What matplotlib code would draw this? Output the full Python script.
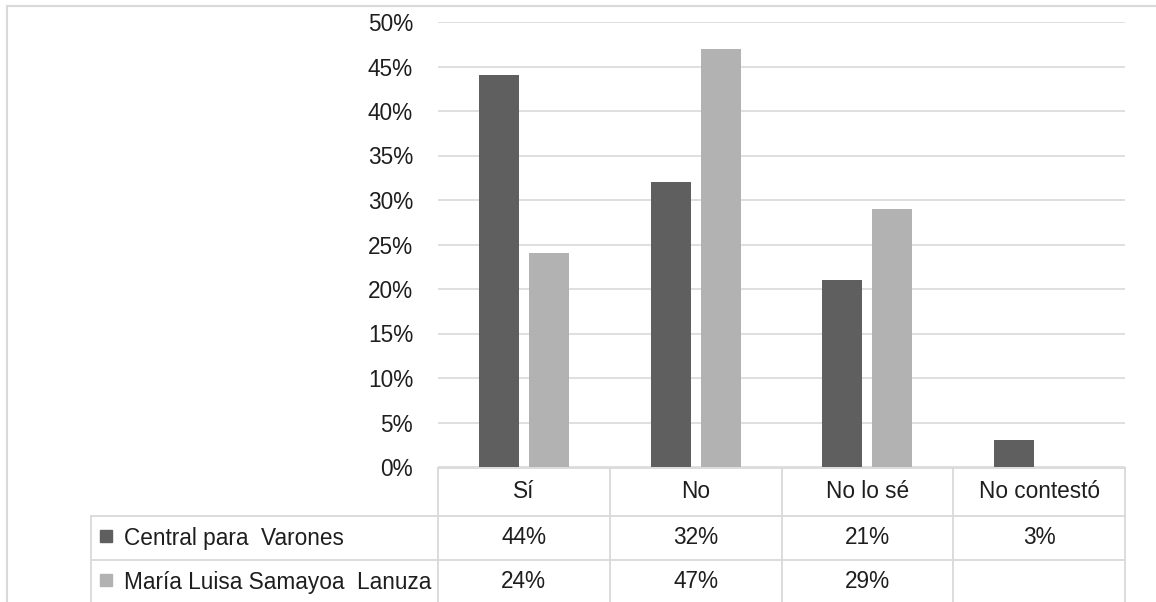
import matplotlib.pyplot as plt
import numpy as np
from matplotlib.lines import Line2D
from matplotlib.patches import Rectangle
import matplotlib.transforms as mtransforms

plt.rcParams['font.family'] = ['Liberation Sans', 'DejaVu Sans']

# survey answers, percent per school
categories = ['Sí', 'No', 'No lo sé', 'No contestó']
series_names = ['Central para  Varones', 'María Luisa Samayoa  Lanuza']
central = [44, 32, 21, 3]
samayoa = [24, 47, 29, None]
yticks = [0, 5, 10, 15, 20, 25, 30, 35, 40, 45, 50]

dark = '#5f5f5f'
light = '#b2b2b2'
grid_c = '#d9d9d9'
text_c = '#1e1e1e'
fs = 16.3

W, H = 1156, 602
fig = plt.figure(figsize=(W / 100, H / 100), dpi=100)

# plot area in pixels: x 438..1125, y 22 (50%) .. 467 (0%)
x0, x1, ytop, ybot = 438, 1125, 22, 467
ax = fig.add_axes([x0 / W, 1 - ybot / H, (x1 - x0) / W, (ybot - ytop) / H])

x = np.arange(len(categories))
bw = 0.233
off = 0.1456
ax.bar(x - off, central, width=bw, color=dark, zorder=3)
vals2 = [v if v is not None else 0 for v in samayoa]
ax.bar(x + off, vals2, width=bw, color=light, zorder=3)

ax.set_xlim(-0.5, len(categories) - 0.5)
ax.set_ylim(0, 50)
ax.set_yticks(yticks)
ax.set_yticklabels([f'{t}%' for t in yticks], fontsize=fs, color=text_c)
ax.tick_params(axis='y', length=0, pad=18)
ax.set_xticks([])
for s in ax.spines.values():
    s.set_visible(False)
ax.yaxis.grid(True, color=grid_c, linewidth=1.2, zorder=0)

# data table under the plot, rows measured in pixels below the 0% line
ppx = (ybot - ytop)  # axes height in px
def ay(py):
    return (ybot - py) / ppx

trans = mtransforms.blended_transform_factory(ax.transData, ax.transAxes)
cat_px = (x1 - x0) / len(categories)
left_data = -0.5 - (x0 - 91) / cat_px
right_data = len(categories) - 0.5
row_y = [468, 516, 560, 604]
lw = 1.3

def hline(xa, xb, py):
    ax.add_line(Line2D([xa, xb], [ay(py), ay(py)], transform=trans,
                       color=grid_c, lw=lw, clip_on=False))

def vline(xd, pa, pb):
    ax.add_line(Line2D([xd, xd], [ay(pa), ay(pb)], transform=trans,
                       color=grid_c, lw=lw, clip_on=False))

hline(-0.5, right_data, row_y[0])
hline(left_data, right_data, row_y[1])
hline(left_data, right_data, row_y[2])
for i in range(len(categories) + 1):
    vline(i - 0.5, row_y[0], row_y[3])
vline(left_data, row_y[1], row_y[3])

for i, c in enumerate(categories):
    ax.text(i, ay((row_y[0] + row_y[1]) / 2), c, transform=trans, ha='center',
            va='center', fontsize=fs, color=text_c)

rows = [central, samayoa]
colors = [dark, light]
for r, (name, vals, col) in enumerate(zip(series_names, rows, colors)):
    yc = (row_y[r + 1] + row_y[r + 2]) / 2
    for i, v in enumerate(vals):
        if v is not None:
            ax.text(i, ay(yc), f'{v}%', transform=trans, ha='center',
                    va='center', fontsize=fs, color=text_c)
    # legend key square and series name
    fig.patches.append(Rectangle((100 / W, 1 - (yc + 4) / H), 12 / W, 12 / H,
                                 transform=fig.transFigure, color=col))
    fig.text(124 / W, 1 - (yc + 1) / H, name, ha='left', va='center',
             fontsize=fs, color=text_c)

# chart area border (top and left edges)
fig.add_artist(Line2D([7 / W, 1], [1 - 6 / H, 1 - 6 / H], color=grid_c, lw=1.5,
                      transform=fig.transFigure))
fig.add_artist(Line2D([7 / W, 7 / W], [0, 1 - 6 / H], color=grid_c, lw=1.5,
                      transform=fig.transFigure))

fig.savefig('out.png', dpi=100, facecolor='white')
